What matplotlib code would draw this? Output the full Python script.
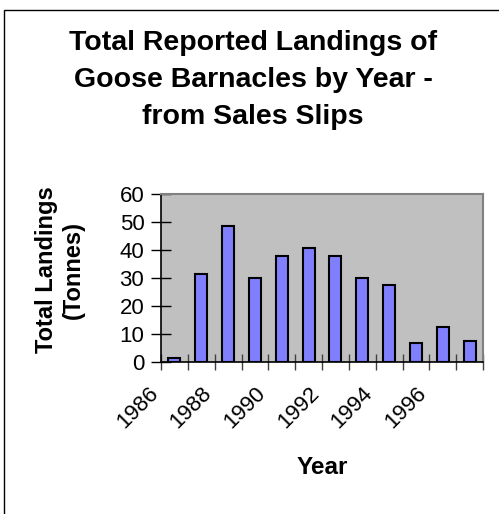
import numpy as np
import matplotlib
matplotlib.use("Agg")
import matplotlib.pyplot as plt
import matplotlib.transforms as mtransforms
from matplotlib.patches import Rectangle

years = [1986, 1987, 1988, 1989, 1990, 1991, 1992, 1993, 1994, 1995, 1996, 1997]
landings = [1.4, 31.4, 48.5, 29.9, 37.7, 40.7, 37.7, 29.9, 27.6, 6.9, 12.4, 7.6]
year_labels = [str(y) if i % 2 == 0 else "" for i, y in enumerate(years)]

plt.rcParams['font.family'] = ['Liberation Sans', 'DejaVu Sans']

fig = plt.figure(figsize=(4.99, 5.14), dpi=100)
W, H = 499, 514

# outer chart frame
fig.patches.append(Rectangle((4 / W, -0.1), 1.2, 1.1 - 10 / H, transform=fig.transFigure,
                             fill=False, edgecolor='black', linewidth=1.0))

ax = fig.add_axes([161 / W, 1 - 362 / H, 322 / W, 168 / H])
ax.set_facecolor('#C0C0C0')

x = np.arange(len(years))
ax.bar(x, landings, width=0.45, color='#8080FF', edgecolor='black', linewidth=1.5, zorder=3)

ax.set_xlim(-0.5, len(years) - 0.5)
ax.set_ylim(0, 60)
ax.set_yticks(np.arange(0, 61, 10))

# tick marks at category boundaries, labels at centers
ax.set_xticks(np.arange(-0.5, len(years), 1.0))
ax.set_xticklabels([])
ax.set_xticks(x, minor=True)
ax.set_xticklabels(year_labels, minor=True, rotation=45, ha='right', fontsize=16)
ax.tick_params(axis='x', which='major', direction='inout', length=12, width=1, color='#404040')
ax.tick_params(axis='x', which='minor', length=0, pad=15)
ax.tick_params(axis='y', direction='inout', length=14, width=1, labelsize=16, pad=5)

offset = mtransforms.ScaledTranslation(-12 / 100, 0, fig.dpi_scale_trans)
for lab in ax.get_xticklabels(minor=True):
    lab.set_transform(lab.get_transform() + offset)

for s in ['top', 'right']:
    ax.spines[s].set_color('#808080')
    ax.spines[s].set_linewidth(1.5)
for s in ['left', 'bottom']:
    ax.spines[s].set_color('black')
    ax.spines[s].set_linewidth(1.2)

fig.text(253 / W, 1 - 80 / H, "Total Reported Landings of\nGoose Barnacles by Year -\nfrom Sales Slips",
         ha='center', va='center', fontsize=20.5, fontweight='bold', linespacing=1.55)
fig.text(60 / W, 1 - 270 / H, "Total Landings\n(Tonnes)", ha='center', va='center',
         rotation=90, fontsize=17, fontweight='bold', linespacing=1.2)
fig.text(322 / W, 1 - 467 / H, "Year", ha='center', va='center', fontsize=17.5, fontweight='bold')

fig.savefig("out.png", dpi=100)
